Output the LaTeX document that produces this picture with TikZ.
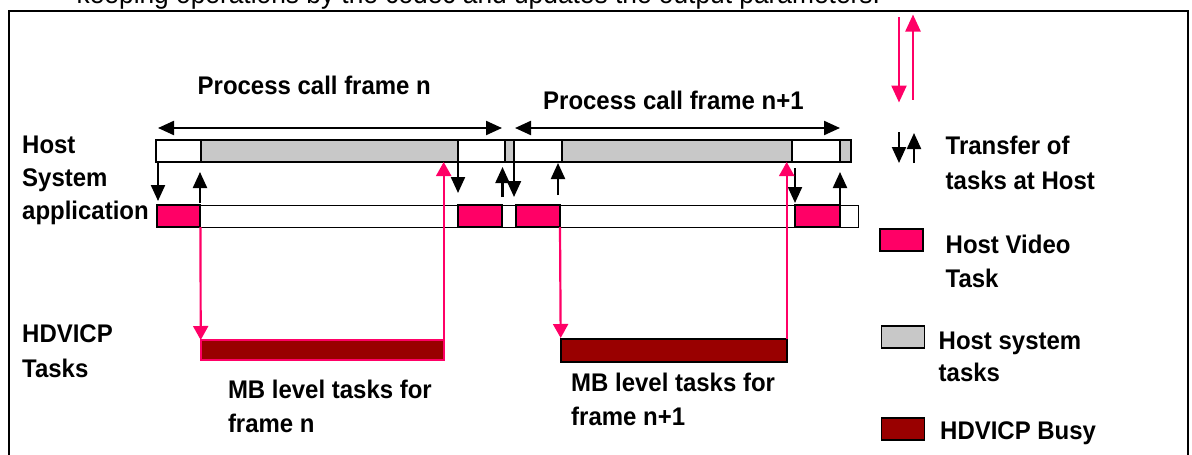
\documentclass[tikz,border=0pt]{standalone}
\usepackage{fontspec}
\setmainfont{Liberation Sans}[FakeStretch=0.94]
\usetikzlibrary{arrows.meta,calc}
\definecolor{hpink}{HTML}{FF0066}
\definecolor{hdark}{HTML}{990000}
\definecolor{hgray}{HTML}{C8C8C8}
\begin{document}
\begin{tikzpicture}[x=1pt,y=-1pt,
  lbl/.style={font=\fontsize{25.5}{#1}\selectfont\bfseries, inner sep=0pt, anchor=north west, align=left},
  lbl/.default=34,
  seg/.style={draw=black, line width=1.6pt, inner sep=0pt, outer sep=0pt, anchor=north west, minimum height=22pt},
  hvt/.style={draw=black, line width=2.2pt, fill=hpink, inner sep=0pt, outer sep=0pt, anchor=north west, minimum height=22pt},
  busy/.style={fill=hdark, line width=2pt, inner sep=0pt, outer sep=0pt, anchor=north west},
  legbox/.style={draw=black, line width=1.4pt, inner sep=0pt, outer sep=0pt, anchor=north west, minimum width=43pt, minimum height=22pt},
  tarr/.style={draw=black, line width=2.2pt, -{Triangle[width=14pt,length=16pt]}},
  parr/.style={draw=hpink, line width=2.2pt, -{Triangle[width=15pt,length=14pt]}},
  bigparr/.style={draw=hpink, line width=2.4pt, -{Triangle[width=15pt,length=17pt]}},
  darr/.style={draw=black, line width=2.2pt, {Triangle[width=14pt,length=16pt]}-{Triangle[width=14pt,length=16pt]}}
]
\useasboundingbox (0,0) rectangle (1192,455);
\clip (0,0) rectangle (1192,455);

% cut-off text at top and frame
\node[font=\fontsize{28}{30}\selectfont, inner sep=0pt, anchor=base west] (cut) at (76.5,4) {keeping operations by the codec and updates the output parameters.};
\node[draw=black, line width=2pt, inner sep=0pt, anchor=north west, minimum width=1179pt, minimum height=470pt] (frame) at (8,10) {};

% top-right pink arrows
\coordinate (pd1) at (899,17);
\coordinate (pd2) at (899,102.5);
\coordinate (pu1) at (913,99.5);
\coordinate (pu2) at (913,14.5);
\draw[bigparr] (pd1) -- (pd2);
\draw[bigparr] (pu1) -- (pu2);

% host system bar (top)
\node[seg, fill=white, minimum width=45pt]  (t1) at (156,140) {};
\node[seg, fill=hgray, minimum width=257pt] (t2) at (201,140) {};
\node[seg, fill=white, minimum width=47pt]  (t3) at (458,140) {};
\node[seg, fill=hgray, minimum width=9pt]   (t4) at (505,140) {};
\node[seg, fill=white, minimum width=48pt]  (t5) at (514,140) {};
\node[seg, fill=hgray, minimum width=230pt] (t6) at (562,140) {};
\node[seg, fill=white, minimum width=48pt]  (t7) at (792,140) {};
\node[seg, fill=hgray, minimum width=11pt]  (t8) at (840,140) {};

% host application bar (bottom)
\node[draw=black, line width=1.2pt, fill=white, inner sep=0pt, anchor=north west, minimum width=701pt, minimum height=22pt] (app) at (157,205) {};
\node[hvt, minimum width=43pt] (p1) at (157,205) {};
\node[hvt, minimum width=44pt] (p2) at (458,205) {};
\node[hvt, minimum width=44pt] (p3) at (516,205) {};
\node[hvt, minimum width=45pt] (p4) at (795,205) {};

% process call arrows
\draw[darr] ($(t1.north west)+(2,-12)$) -- ($(t3.north east)+(-3,-12)$);
\draw[darr] ($(t5.north west)+(1,-12)$) -- ($(t7.north east)+(0,-12)$);
\node[lbl] (pcn) at (197.5,76) {Process call frame n};
\node[lbl] (pcn1) at (543,91) {Process call frame n+1};

% transfer arrows
\draw[tarr] ($(t1.south west)+(2,0)$) -- ($(p1.north west)+(1,-4)$);
\draw[tarr] ($(p1.north east)+(0,-2)$) -- ($(t1.south east)+(-1,10)$);
\draw[tarr] (t3.south west) -- ($(p2.north west)+(0,-12)$);
\draw[tarr] ($(p2.north east)+(0.5,-8)$) -- ($(t3.south east)+(-2.5,5)$);
\draw[tarr] (t4.south east) -- ($(p3.north west)+(-2,-8)$);
\draw[tarr] ($(p3.north east)+(-2,-10)$) -- ($(t5.south east)+(-4,1)$);
\draw[tarr] ($(t7.south west)+(3,6)$) -- ($(p4.north west)+(0,-2)$);
\draw[tarr] (p4.north east) -- ($(t7.south east)+(0,10)$);

% HDVICP busy bars
\node[busy, draw=hpink, minimum width=243pt, minimum height=20pt] (d1) at (200.7,340) {};
\node[busy, draw=black, minimum width=226pt, minimum height=22.5pt] (d2) at (560.7,339) {};

% pink task arrows
\draw[parr] ($(p1.south east)+(0.5,0)$) -- (d1.north west);
\draw[parr] (d1.north east) -- (d1.north east |- t2.south);
\draw[parr] (p3.south east) -- ($(d2.north west)+(0,-1)$);
\draw[parr] (d2.north east) -- (d2.north east |- t6.south);

% MB labels
\node[lbl=33.5] (mbn) at (227.8,380) {MB level tasks for\\frame n};
\node[lbl=34] (mbn1) at (571,373.3) {MB level tasks for\\frame n+1};

% left labels
\node[lbl=33] (host) at (22,136) {Host\\System\\application};
\node[lbl=35] (hdv) at (22,324) {HDVICP\\Tasks};

% legend
\coordinate (ld1) at (899,132);
\coordinate (ld2) at (899,163);
\coordinate (lu1) at (914,163);
\coordinate (lu2) at (914,133);
\draw[tarr] (ld1) -- (ld2);
\draw[tarr] (lu1) -- (lu2);
\node[lbl=35] (lt) at (945.5,136) {Transfer of\\tasks at Host};
\node[legbox, fill=hpink] (lp) at (880,229) {};
\node[lbl=34] (lhv) at (945.5,235) {Host Video\\Task};
\node[legbox, fill=hgray] (lg) at (881.5,326) {};
\node[lbl=32] (lhs) at (938.5,331.7) {Host system\\tasks};
\node[legbox, fill=hdark] (lb) at (881.5,418) {};
\node[lbl] (lhb) at (940,421.7) {HDVICP Busy};
\end{tikzpicture}
\end{document}
